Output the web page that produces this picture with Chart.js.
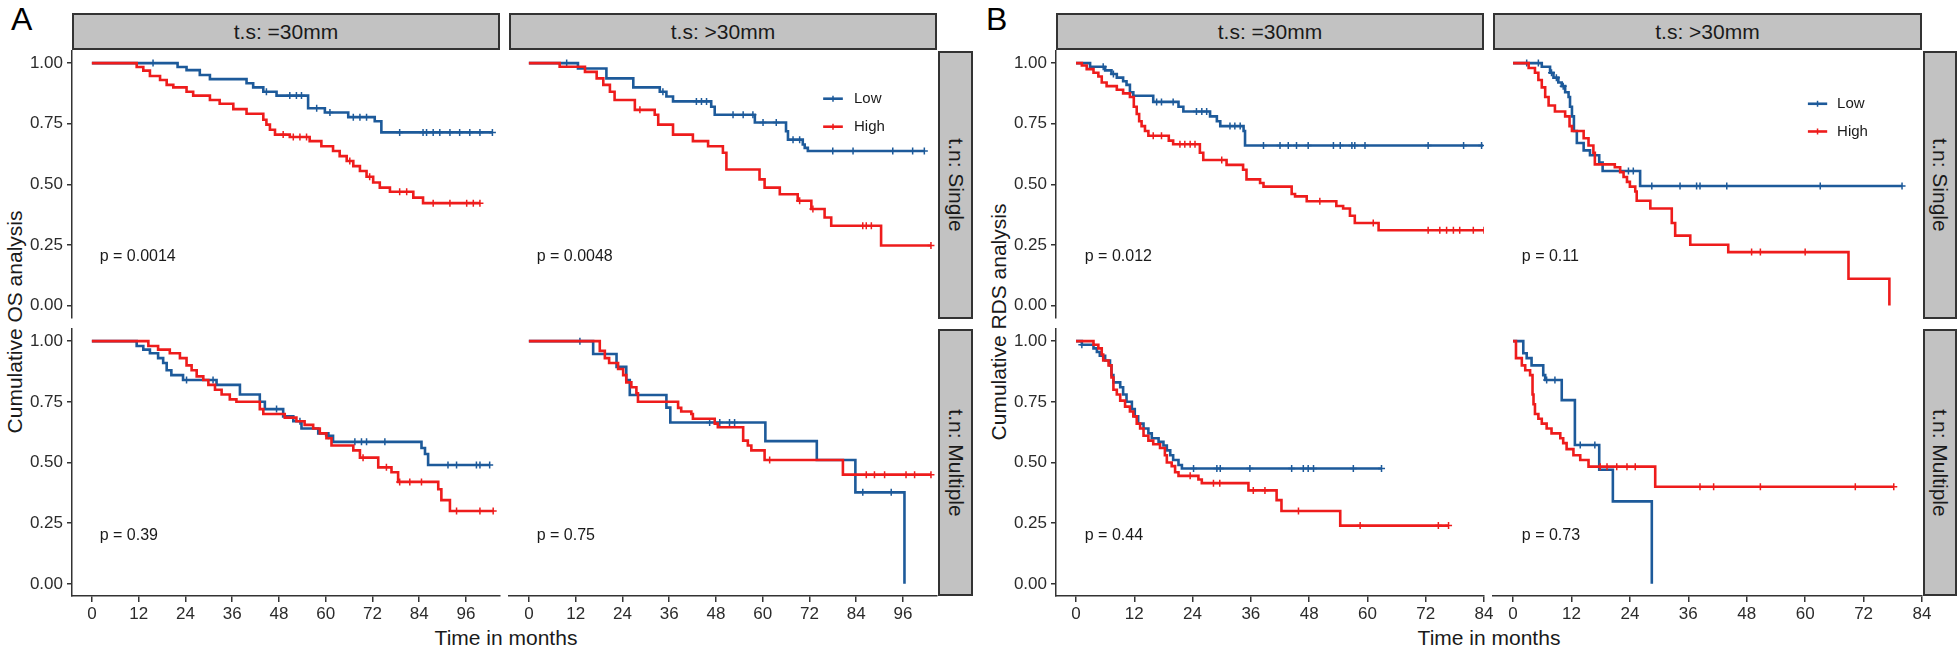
<!DOCTYPE html>
<html lang="en">
<head>
<meta charset="UTF-8">
<title>Kaplan-Meier curves by tumour size and number</title>
<script src="https://cdn.jsdelivr.net/npm/chart.js"></script>
<style>
  body { margin:0; background:#fff; width:1960px; height:650px; overflow:hidden; position:relative;
         font-family:"Liberation Sans", Arial, sans-serif; }
  .panel { position:absolute; }
  .strip { position:absolute; background:#c2c2c2; border:2px solid #333; box-sizing:border-box; color:#1a1a1a;
           font-size:21px; display:flex; align-items:center; justify-content:center; white-space:nowrap; }
  .strip.side span { transform:rotate(90deg); }
  .txt { position:absolute; white-space:nowrap; line-height:1; color:#1a1a1a; }
</style>
</head>
<body>
<script>
// ---- labels / ticks ----
const xTicksA = [0, 12, 24, 36, 48, 60, 72, 84, 96];
const xTicksB = [0, 12, 24, 36, 48, 60, 72, 84];
const yTicks = [0, 0.25, 0.5, 0.75, 1];
const colLabels = ['t.s: =30mm', 't.s: >30mm'];
const rowLabels = ['t.n: Single', 't.n: Multiple'];
const groupNames = ['Low', 'High'];
const pValuesA = ['p = 0.0014', 'p = 0.0048', 'p = 0.39', 'p = 0.75'];
const pValuesB = ['p = 0.012', 'p = 0.11', 'p = 0.44', 'p = 0.73'];

// ---- A: OS, row 1 (single) col 1 (=30mm) ----
const A11_low_t  = [0, 22, 24.3, 27.7, 30.3, 39.7, 41.4, 44, 47.4, 55.5, 59.8, 65.8, 72.6, 74.3, 102.8];
const A11_low_s  = [1, .984, .971, .951, .934, .917, .90, .882, .866, .814, .796, .777, .76, .714, .714];
const A11_low_c  = [15.7, 44.8, 50.8, 52.5, 53.8, 57.7, 61.1, 67.1, 68.8, 70.5, 79, 85, 85.9, 87.6, 89.3, 91.9, 94.4, 97, 99.6, 102.8];
const A11_high_t = [0, 11.5, 13.2, 14.9, 17.5, 19.2, 20.9, 24.3, 26, 30.3, 32.8, 36.3, 39.7, 44, 44.8, 45.7, 47, 50.8, 55.9, 58.9, 61.9, 63.6, 65.4, 67.1, 68.8, 70.5, 72.2, 73.9, 76.5, 82.5, 85, 99.6];
const A11_high_s = [1, .984, .969, .947, .93, .91, .90, .882, .866, .848, .832, .81, .791, .766, .746, .725, .705, .695, .678, .657, .637, .616, .596, .575, .555, .531, .507, .486, .469, .445, .422, .422];
const A11_high_c = [49.1, 51.7, 53.4, 55.1, 66.2, 71.3, 79, 80.8, 87.6, 91.9, 96.2, 97.9, 99.6];

// ---- A: row 1 col 2 (>30mm) ----
const A12_low_t  = [0, 12.6, 19.9, 26.8, 33.6, 35.3, 37, 46.8, 47.7, 58, 66, 66.5, 70.3, 70.8, 71.6, 101.5];
const A12_low_s  = [1, .978, .937, .90, .882, .862, .842, .82, .787, .755, .719, .684, .664, .65, .637, .637];
const A12_low_c  = [9.7, 34.4, 43, 44.3, 45.6, 52.4, 55, 57.5, 60.1, 63.5, 67.8, 69.5, 78, 83.2, 93.4, 98.5, 101.5];
const A12_high_t = [0, 7.9, 14.4, 17.4, 19.1, 20.8, 22, 27.2, 32.3, 33.2, 37, 42.1, 46, 49.8, 50.7, 59.2, 60.5, 64.4, 69, 72.5, 75.9, 77.6, 90.4, 103.2];
const A12_high_s = [1, .985, .964, .937, .91, .882, .848, .807, .787, .746, .705, .678, .657, .63, .561, .52, .486, .459, .432, .398, .363, .329, .247, .247];
const A12_high_c = [28.5, 69.5, 72.9, 85.7, 86.6, 87.9, 103.2];

// ---- A: row 2 (multiple) col 1 ----
const A21_low_t  = [0, 11.5, 13.2, 14.9, 17, 18.3, 19.2, 20.4, 23.4, 32, 38, 43.1, 44.4, 49.1, 51.7, 53.8, 58.1, 60.7, 61.9, 84.6, 85.5, 86.3, 102.1];
const A21_low_s  = [1, .98, .965, .95, .93, .91, .88, .86, .84, .82, .78, .75, .72, .69, .67, .64, .62, .61, .585, .56, .535, .49, .49];
const A21_low_c  = [24.3, 31.1, 47.4, 53.4, 60.7, 67.5, 69.2, 70.5, 75.2, 91.4, 93.6, 98.7, 99.6, 102.1];
const A21_high_t = [0, 14.5, 17, 20, 22.6, 24.3, 25.6, 26.9, 28.6, 29.9, 31.6, 33.3, 35.4, 37.1, 43.1, 44, 49.5, 52.5, 54.6, 56.8, 58.5, 60.2, 61.5, 67.1, 68.8, 73.5, 76.9, 78.6, 88.9, 89.7, 91.9, 103];
const A21_high_s = [1, .98, .965, .95, .93, .90, .88, .855, .84, .82, .80, .78, .76, .75, .72, .70, .685, .67, .655, .64, .62, .60, .57, .55, .52, .48, .46, .42, .39, .345, .30, .30];
const A21_high_c = [69.6, 75.6, 79, 81.6, 84.6, 93.6, 99.6, 103];

// ---- A: row 2 col 2 ----
const A22_low_t  = [0, 16.5, 22.5, 25, 25.9, 35.3, 36.3, 60.7, 73.9, 83.8, 96.4];
const A22_low_s  = [1, .947, .894, .84, .778, .726, .665, .588, .51, .377, 0];
const A22_low_c  = [13.1, 46.4, 49, 51.5, 52.8, 85.7, 93];
const A22_high_t = [0, 18.2, 19.5, 20.6, 22.9, 24.2, 25, 26.3, 27.6, 28, 38.3, 39.1, 41.7, 42.1, 47.7, 48.5, 55, 56.2, 57.1, 60.5, 80.6, 103.2];
const A22_high_s = [1, .96, .93, .91, .885, .86, .83, .81, .785, .75, .725, .71, .70, .68, .66, .645, .59, .57, .55, .51, .45, .45];
const A22_high_c = [61.8, 86.6, 88.7, 91.3, 96.8, 99, 103.2];

// ---- B: RDS, row 1 col 1 ----
const B11_low_t  = [0, 2.9, 6, 7.3, 8.4, 9.7, 10.4, 11.1, 11.8, 15.9, 21.1, 22.1, 27.6, 29, 29.7, 34.5, 34.8, 83.8];
const B11_low_s  = [1, .985, .97, .955, .94, .925, .91, .88, .865, .84, .82, .80, .78, .76, .74, .72, .66, .66];
const B11_low_c  = [5.6, 7.7, 16.6, 17.6, 20, 24.8, 25.9, 26.9, 31.7, 32.7, 33.8, 38.6, 42, 43.7, 45.4, 47.8, 53, 54.4, 56.8, 57.4, 59.5, 72.5, 79.8, 83.5];
const B11_high_t = [0, 1.2, 2.2, 3.6, 4.6, 5.3, 6.3, 8.4, 9.7, 11.1, 11.9, 12.5, 13, 13.5, 14.2, 14.9, 19.1, 20, 25.5, 26.2, 31, 34.4, 35.1, 37.9, 38.6, 44.4, 45.1, 47.5, 53.6, 55, 56.4, 57.4, 62.3, 84];
const B11_high_s = [1, .99, .975, .96, .945, .92, .905, .89, .875, .86, .82, .79, .76, .74, .72, .70, .68, .665, .63, .60, .58, .56, .52, .505, .49, .46, .45, .43, .41, .40, .37, .34, .31, .31];
const B11_high_c = [15.9, 17.6, 21.4, 22.4, 23.5, 24.5, 30, 50.2, 61.2, 72.5, 74.9, 76.3, 77.7, 79, 81.8, 84];

// ---- B: row 1 col 2 ----
const B12_low_t  = [0, 5.9, 7.6, 8.3, 9.3, 10, 10.7, 11.4, 11.7, 12.1, 12.5, 13.1, 14.5, 15.8, 17.7, 18.4, 26.1, 79.9];
const B12_low_s  = [1, .985, .96, .94, .92, .905, .88, .86, .82, .78, .72, .67, .64, .62, .59, .555, .493, .493];
const B12_low_c  = [2.8, 5.2, 7.9, 8.9, 10.3, 23.7, 24.7, 28.5, 34.3, 37.7, 38.4, 43.9, 63.1, 79.9];
const B12_high_t = [0, 3.2, 4.5, 5.2, 5.9, 6.6, 7.3, 8.6, 10.7, 11.6, 12.1, 14.5, 15.5, 16.5, 16.8, 20.9, 22, 22.7, 23.4, 24, 25.1, 25.4, 28.2, 32.6, 33.3, 36.4, 44.2, 68.9, 77.3];
const B12_high_s = [1, .98, .96, .93, .90, .86, .825, .80, .78, .74, .72, .69, .66, .63, .582, .57, .55, .53, .51, .49, .47, .432, .40, .34, .288, .25, .22, .11, 0];
const B12_high_c = [49, 50.8, 60];

// ---- B: row 2 col 1 ----
const B21_low_t  = [0, 1.2, 3.6, 4.3, 4.9, 6, 7, 7.3, 7.7, 9.1, 9.7, 10.4, 11.5, 12.1, 12.8, 13.9, 14.9, 15.6, 17, 18, 18.7, 19.4, 20, 21.1, 21.8, 62.9];
const B21_low_s  = [1, .985, .97, .955, .94, .92, .90, .86, .83, .81, .78, .75, .72, .69, .66, .64, .62, .60, .585, .57, .55, .53, .51, .49, .475, .475];
const B21_low_c  = [1.2, 24.2, 29, 29.7, 35.8, 44.4, 46.8, 47.8, 48.9, 57.1, 62.9];
const B21_high_t = [0, 3.6, 4.6, 5.3, 5.6, 6.7, 7.3, 7.7, 8.4, 9.1, 10.1, 11.1, 11.8, 12.5, 13.2, 13.9, 14.9, 15.9, 17.3, 18.3, 18.7, 19.7, 20.4, 21.1, 25.2, 25.9, 35.5, 41.3, 42.3, 54.4, 76.7];
const B21_high_s = [1, .985, .97, .945, .92, .90, .85, .80, .78, .755, .73, .71, .69, .66, .64, .61, .59, .575, .56, .53, .50, .485, .46, .445, .43, .415, .385, .345, .30, .24, .24];
const B21_high_c = [23.5, 28.3, 29.6, 36.5, 38.9, 45.8, 58.5, 74.6, 76.7];

// ---- B: row 2 col 2 ----
const B22_low_t  = [0, 2.1, 2.8, 3.8, 6.2, 6.6, 10, 12.7, 17.7, 20.5, 28.5];
const B22_low_s  = [1, .95, .93, .90, .86, .84, .757, .572, .47, .34, 0];
const B22_low_c  = [6.9, 8.6, 13.8, 16.8];
const B22_high_t = [0, 0.6, 1.8, 2.5, 3.5, 4, 4.2, 4.5, 5.2, 5.9, 6.9, 7.9, 9.7, 10.3, 11, 12.4, 13.8, 15.5, 29.2, 78.2];
const B22_high_s = [1, .93, .90, .88, .86, .78, .74, .70, .68, .66, .64, .62, .60, .58, .555, .53, .51, .483, .40, .40];
const B22_high_c = [17.9, 19.3, 21.3, 23.4, 25.1, 38.4, 41.2, 50.8, 70.3, 78.2];

// ---- layout ----
const FONT = '"Liberation Sans", Arial, sans-serif';
const COLORS = { Low: '#1d5a9a', High: '#ee1c1c' };
const rowTop = [51, 329], rowH = [268, 267];

const figs = [
  { letter: 'A', letterX: 11, cols: [72, 509], colW: [428, 428], side: [938, 35], xMin: -5.1, xMax: 104.75,
    ticks: xTicksA, pX: 2, p: pValuesA, ylab: 'Cumulative OS analysis', ylabX: 14, xlabX: 506,
    legend: { x1: 0.734, x2: 0.78, tx: 0.806, y: [0.179, 0.284] },
    curves: [
      [[A11_low_t, A11_low_s, A11_low_c], [A11_high_t, A11_high_s, A11_high_c]],
      [[A12_low_t, A12_low_s, A12_low_c], [A12_high_t, A12_high_s, A12_high_c]],
      [[A21_low_t, A21_low_s, A21_low_c], [A21_high_t, A21_high_s, A21_high_c]],
      [[A22_low_t, A22_low_s, A22_low_c], [A22_high_t, A22_high_s, A22_high_c]]] },
  { letter: 'B', letterX: 986, cols: [1056, 1493], colW: [428, 429], side: [1923, 34], xMin: -4.12, xMax: 84.0,
    ticks: xTicksB, pX: 1.8, p: pValuesB, ylab: 'Cumulative RDS analysis', ylabX: 998, xlabX: 1489,
    legend: { x1: 0.734, x2: 0.779, tx: 0.802, y: [0.198, 0.302] },
    curves: [
      [[B11_low_t, B11_low_s, B11_low_c], [B11_high_t, B11_high_s, B11_high_c]],
      [[B12_low_t, B12_low_s, B12_low_c], [B12_high_t, B12_high_s, B12_high_c]],
      [[B21_low_t, B21_low_s, B21_low_c], [B21_high_t, B21_high_s, B21_high_c]],
      [[B22_low_t, B22_low_s, B22_low_c], [B22_high_t, B22_high_s, B22_high_c]]] }
];

function addDiv(cls, text, css) {
  const d = document.createElement('div');
  d.className = cls;
  if (cls.indexOf('side') >= 0) { const s = document.createElement('span'); s.textContent = text; d.appendChild(s); }
  else d.textContent = text;
  Object.assign(d.style, css);
  document.body.appendChild(d);
  return d;
}

// survival value just after time x
function stepAt(t, s, x) {
  let v = s[0];
  for (let i = 0; i < t.length; i++) if (t[i] <= x) v = s[i];
  return v;
}

const annot = {
  id: 'annot',
  afterDatasetsDraw(chart, args, o) {
    const ctx = chart.ctx, xs = chart.scales.x, ys = chart.scales.y, a = chart.chartArea;
    ctx.save();
    ctx.fillStyle = '#1a1a1a';
    ctx.textBaseline = 'middle';
    ctx.textAlign = 'left';
    ctx.font = '16px ' + FONT;
    ctx.fillText(o.p, xs.getPixelForValue(o.px), ys.getPixelForValue(0.2));
    if (o.legend) {
      const L = o.legend;
      groupNames.forEach((g, i) => {
        const y = a.top + a.height * L.y[i];
        const x1 = a.left + a.width * L.x1, x2 = a.left + a.width * L.x2, xm = (x1 + x2) / 2;
        ctx.strokeStyle = COLORS[g];
        ctx.lineWidth = 2.6;
        ctx.beginPath(); ctx.moveTo(x1, y); ctx.lineTo(x2, y); ctx.stroke();
        ctx.lineWidth = 1.5;
        ctx.beginPath(); ctx.moveTo(xm, y - 3); ctx.lineTo(xm, y + 3); ctx.stroke();
        ctx.fillStyle = '#1a1a1a';
        ctx.font = '15px ' + FONT;
        ctx.fillText(g, a.left + a.width * L.tx, y);
      });
    }
    ctx.restore();
  }
};

function makePanel(f, r, c) {
  const showY = c === 0, showX = r === 1;
  const yW = showY ? 60 : 0, xH = showX ? 34 : 0;
  const pl = 8, pr = 16, pt = 6, pb = 4;
  const px = f.cols[c], py = rowTop[r], pw = f.colW[c], ph = rowH[r];
  const w = pw + yW + pl + pr, h = ph + xH + pt + pb;
  const box = document.createElement('div');
  box.className = 'panel';
  Object.assign(box.style, { left: (px - yW - pl) + 'px', top: (py - pt) + 'px', width: w + 'px', height: h + 'px' });
  const cv = document.createElement('canvas');
  cv.width = w; cv.height = h;
  box.appendChild(cv);
  document.body.appendChild(box);

  const datasets = [];
  f.curves[r * 2 + c].forEach((cur, gi) => {
    const g = groupNames[gi], [t, s, cens] = cur, ord = gi === 0 ? 2 : 1;
    datasets.push({ label: g, data: t.map((v, i) => ({ x: v, y: s[i] })), stepped: true, showLine: true,
      borderColor: COLORS[g], borderWidth: 2.6, pointRadius: 0, fill: false, order: ord });
    datasets.push({ label: g + ' censored', data: cens.map(v => ({ x: v, y: stepAt(t, s, v) })), showLine: false,
      pointStyle: 'cross', pointRadius: 3.5, pointBorderWidth: 1.5, borderColor: COLORS[g],
      backgroundColor: COLORS[g], order: ord });
  });

  const tickFont = { size: 17, family: FONT };
  new Chart(cv, {
    type: 'line',
    data: { datasets },
    plugins: [annot],
    options: {
      responsive: false, animation: false, events: [],
      layout: { padding: { left: pl, right: pr, top: pt, bottom: pb } },
      plugins: {
        legend: { display: false }, tooltip: { enabled: false },
        annot: { p: f.p[r * 2 + c], px: f.pX, legend: (r === 0 && c === 1) ? f.legend : null }
      },
      scales: {
        x: {
          type: 'linear', min: f.xMin, max: f.xMax, display: showX,
          afterBuildTicks: s => { s.ticks = f.ticks.map(v => ({ value: v })); },
          afterFit: s => { s.height = xH; s.paddingLeft = 0; s.paddingRight = 0; },
          grid: { drawOnChartArea: false, drawTicks: true, tickLength: 6, color: '#333', lineWidth: 1.5 },
          border: { display: true, color: '#333', width: 1.5 },
          ticks: { color: '#2b2b2b', font: tickFont, padding: 2, maxRotation: 0, autoSkip: false, callback: v => v }
        },
        y: {
          type: 'linear', min: -0.05, max: 1.05, display: showY,
          afterBuildTicks: s => { s.ticks = yTicks.map(v => ({ value: v })); },
          afterFit: s => { s.width = yW; s.paddingTop = 0; s.paddingBottom = 0; },
          grid: { drawOnChartArea: false, drawTicks: true, tickLength: 5, color: '#333', lineWidth: 1.5 },
          border: { display: true, color: '#333', width: 1.5 },
          ticks: { color: '#2b2b2b', font: tickFont, padding: 4, autoSkip: false, callback: v => v.toFixed(2) }
        }
      }
    }
  });
}

figs.forEach(f => {
  addDiv('txt', f.letter, { left: f.letterX + 'px', top: '3px', fontSize: '32px', color: '#000' });
  addDiv('txt', f.ylab, { left: f.ylabX + 'px', top: '322px', fontSize: '21px',
    transform: 'translate(-50%,-50%) rotate(-90deg)' });
  addDiv('txt', 'Time in months', { left: f.xlabX + 'px', top: '627px', fontSize: '21px', transform: 'translateX(-50%)' });
  colLabels.forEach((lab, c) => addDiv('strip', lab,
    { left: f.cols[c] + 'px', top: '13px', width: f.colW[c] + 'px', height: '37px' }));
  rowLabels.forEach((lab, r) => addDiv('strip side', lab,
    { left: f.side[0] + 'px', top: rowTop[r] + 'px', width: f.side[1] + 'px', height: rowH[r] + 'px' }));
  for (let r = 0; r < 2; r++) for (let c = 0; c < 2; c++) makePanel(f, r, c);
});
</script>
</body>
</html>
